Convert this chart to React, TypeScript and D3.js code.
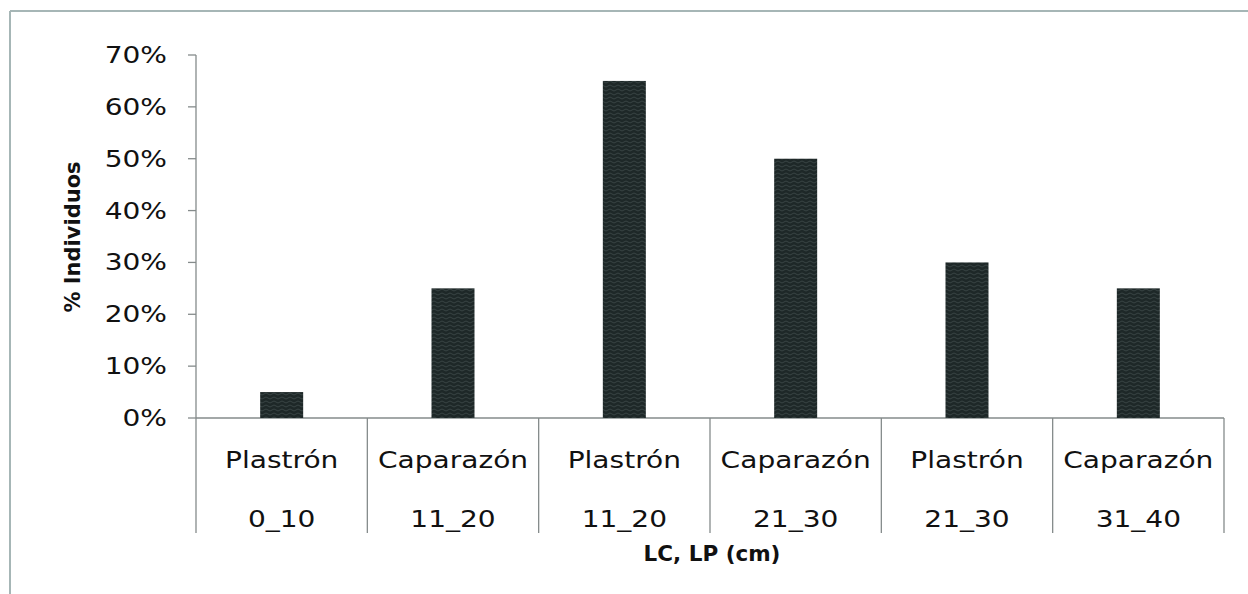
import React from "react";
import * as d3 from "d3";

const categories = ["Plastrón", "Caparazón", "Plastrón", "Caparazón", "Plastrón", "Caparazón"];
const ranges = ["0_10", "11_20", "11_20", "21_30", "21_30", "31_40"];
const values = [0.05, 0.25, 0.65, 0.5, 0.3, 0.25];
const yTicks = [0, 0.1, 0.2, 0.3, 0.4, 0.5, 0.6, 0.7];
const yTitle = "% Individuos";
const xTitle = "LC, LP (cm)";

const W = 1248;
const H = 594;
const left = 196;
const right = 1224;
const top = 55;
const bottom = 418;

export default function App() {
  const x = d3.scaleBand<number>().domain(d3.range(categories.length)).range([left, right]).paddingInner(0).paddingOuter(0);
  const y = d3.scaleLinear().domain([0, 0.7]).range([bottom, top]);
  const bw = 43;
  const fmt = d3.format(".0%");
  const font = "'DejaVu Sans', Verdana, sans-serif";
  const sx = 1.22;
  const fs = 23;
  const axisColor = "#858b8b";
  return (
    <svg width={W} height={H} style={{ position: "absolute", left: 0, top: 0, background: "#fff" }} fontFamily={font}>
      <defs>
        <pattern id="tex" width="8" height="8" patternUnits="userSpaceOnUse">
          <rect width="8" height="8" fill="#1e2828" />
          <path d="M0 2 Q2 0 4 2 T8 2 M0 6 Q2 4 4 6 T8 6" stroke="#3b4747" strokeWidth="0.9" fill="none" />
        </pattern>
      </defs>
      <line x1={10} y1={11} x2={W} y2={11} stroke="#a6b6b6" strokeWidth={2} />
      <line x1={10} y1={11} x2={10} y2={H} stroke="#a6b6b6" strokeWidth={2} />
      {yTicks.map((t) => (
        <g key={t}>
          <line x1={188} x2={left} y1={y(t)} y2={y(t)} stroke={axisColor} strokeWidth={1.3} />
          <text transform={`translate(167,${y(t) + 8}) scale(${sx},1)`} textAnchor="end" fontSize={fs} fill="#111">
            {fmt(t)}
          </text>
        </g>
      ))}
      <line x1={left} x2={left} y1={top} y2={bottom} stroke={axisColor} strokeWidth={1.3} />
      <line x1={left} x2={right} y1={bottom} y2={bottom} stroke={axisColor} strokeWidth={1.3} />
      {d3.range(categories.length + 1).map((i) => {
        const xx = i < categories.length ? (x(i) as number) : right;
        return <line key={i} x1={xx} x2={xx} y1={bottom} y2={533} stroke={axisColor} strokeWidth={1.3} />;
      })}
      {values.map((v, i) => {
        const cx = (x(i) as number) + x.bandwidth() / 2;
        return (
          <g key={i}>
            <rect x={cx - bw / 2} y={y(v)} width={bw} height={bottom - y(v)} fill="url(#tex)" />
            <text transform={`translate(${cx},468) scale(${sx},1)`} textAnchor="middle" fontSize={fs} fill="#111">
              {categories[i]}
            </text>
            <text transform={`translate(${cx},527) scale(${sx},1)`} textAnchor="middle" fontSize={fs} fill="#111">
              {ranges[i]}
            </text>
          </g>
        );
      })}
      <text transform={`translate(80,237) rotate(-90)`} textAnchor="middle" fontSize={21} fontWeight="bold" fill="#111">
        {yTitle}
      </text>
      <text x={(left + right) / 2 + 2} y={561} textAnchor="middle" fontSize={21.5} fontWeight="bold" fill="#111">
        {xTitle}
      </text>
    </svg>
  );
}
